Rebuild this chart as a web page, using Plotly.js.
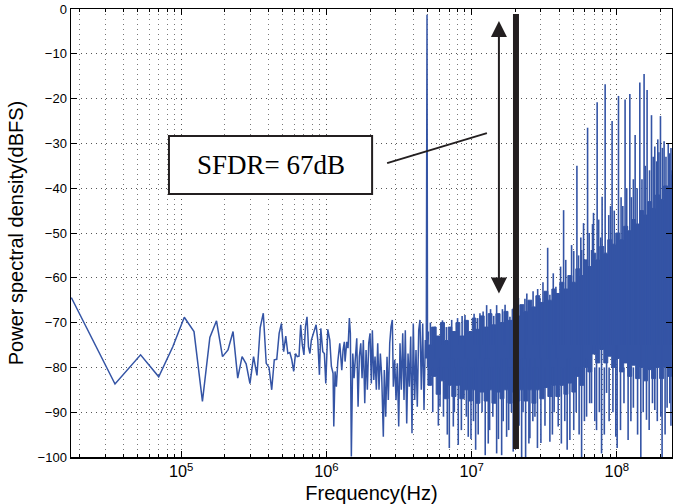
<!DOCTYPE html>
<html><head><meta charset="utf-8">
<script src="https://cdn.plot.ly/plotly-3.0.1.min.js"></script>
<style>html,body{margin:0;padding:0;background:#fff}#chart{width:673px;height:504px}</style>
</head><body><div id="chart"></div>
<script>
// ---- Low-frequency FFT bins (kHz, dBFS) ----
const binFreqKHz = [17.5,35,52.5,70,87.5,105,122.5,140,157.5,175,192.5,210,227.5,245,262.5,280,297.5,315,332.5,350,367.5,385,402.5,420,437.5,455,472.5,490,507.5,525,542.5,560,577.5,595,612.5,630,647.5,665,682.5,700,717.5,735,752.5,770,787.5];
const binPsd = [-64.4,-83.7,-77.2,-82.1,-75.4,-68.8,-72.0,-87.6,-73.3,-69.6,-77.6,-76.1,-72.0,-82.4,-77.6,-79.2,-83.6,-77.6,-81.8,-71.1,-67.9,-79.1,-80.0,-85.0,-78.3,-78.2,-72.4,-70.2,-76.5,-73.0,-76.9,-76.7,-78.3,-80.9,-76.9,-77.6,-77.5,-70.5,-75.0,-77.2,-70.9,-68.7,-75.4,-76.9,-73.9];

// ---- Mid band trace incl. fundamental (MHz, dBFS) ----
const midFreqMHz = [0.849,0.872,0.895,0.915,0.944,0.968,0.990,1.022,1.055,1.082,1.111,1.124,1.147,1.171,1.198,1.236,1.276,1.302,1.329,1.344,1.381,1.409,1.439,1.462,1.485,1.519,1.550,1.582,1.618,1.652,1.686,1.724,1.760,1.796,1.837,1.875,1.914,1.956,1.997,2.039,2.072,2.118,2.162,2.207,2.256,2.303,2.352,2.404,2.443,2.466,2.505,2.561,2.615,2.669,2.729,2.786,2.844,2.890,2.954,3.016,3.078,3.147,3.213,3.280,3.354,3.423,3.495,3.573,3.648,3.723,3.806,3.885,3.966,4.055,4.140,4.226,4.321,4.411,4.503,4.604,4.700,4.798,4.870,4.930,4.970,5.040];
const midPsd = [-70.5,-73.9,-81.7,-71.3,-76.5,-76.9,-83.6,-71.5,-73.9,-79.8,-81.3,-93.2,-80.9,-84.3,-78.7,-74.6,-80.6,-76.1,-74.3,-78.7,-74.3,-75.7,-69.0,-72.4,-99.9,-76.9,-82.4,-78.0,-73.5,-88.8,-77.6,-74.6,-82.4,-73.9,-88.0,-76.1,-85.0,-74.6,-72.4,-83.6,-71.7,-82.8,-77.6,-85.0,-74.6,-85.0,-76.9,-82.1,-89.5,-95.5,-80.6,-91.0,-77.6,-87.3,-74.6,-70.9,-69.4,-84.3,-78.3,-87.3,-79.1,-93.2,-74.6,-85.0,-72.4,-87.3,-71.7,-92.5,-76.9,-84.3,-73.1,-94.7,-70.2,-87.3,-76.1,-88.8,-71.7,-69.4,-85.0,-70.2,-89.5,-73.9,-78.0,-1.3,-80.0,-72.0];

// ---- Dense noise floor band above 5 MHz (MHz, dBFS) ----
const bandFreqMHz = [5.0,5.3,5.7,6.1,6.5,6.9,7.3,7.8,8.3,8.9,9.5,10.1,10.7,11.4,12.2,13.0,13.8,14.7,15.7,16.7,17.8,19.0,20.2,21.5,22.9,24.4,26.0,27.7,29.5,31.5,33.5,35.7,38.0,40.5,43.2,46.0,49.0,52.2,55.6,59.2,63.1,67.2,71.6,76.3,81.3,86.6,92.2,98.3,104.7,111.5,118.8,126.6,134.8,143.7,153.0,163.0,173.7,185.1,197.2,210.0,223.8,238.4];
const bandTop = [-75,-71,-73,-70,-74,-71,-72,-70,-73,-69.5,-72,-69,-71.5,-68.5,-71,-68,-70.5,-68,-70,-67.5,-69.5,-67,-68.5,-66,-67.5,-65,-66.5,-64,-65.5,-63,-65,-62.5,-63.5,-61,-62.5,-59.5,-61,-58,-59.5,-56,-57.5,-54.5,-56,-53,-54.5,-51.5,-52.5,-50,-51.5,-48.5,-49.5,-47,-48,-45,-46,-43,-44.5,-41.5,-42.5,-39.5,-40,-37];
const bandBottom = [-79,-84,-82,-86,-83,-87,-84,-86.5,-84,-87,-85,-87.5,-85,-88,-85.5,-87.5,-85,-88,-85.5,-87,-85,-88,-85.5,-87.5,-85,-87.5,-85,-88,-85,-87,-84.5,-86.5,-84,-86.5,-84,-86,-83.5,-85.5,-82,-84,-80,-81,-77,-79,-76,-79,-77.5,-80,-78,-81,-79,-82,-79.5,-82.5,-80,-83,-80.5,-82.5,-80,-82.5,-80,-82];

// ---- Strong spurs, harmonics and deep dips (MHz, low dB, high dB) ----
const spikeFreqMHz = [5.59,6.06,7.02,7.29,7.48,8.09,9.00,9.48,10.66,11.41,12.41,12.69,13.02,14.87,16.10,17.42,18.36,19.34,22.10,23.28,23.54,25.20,27.29,29.53,30.0,33.4,34.59,38.05,39.48,43.0,45.5,47.5,48.8,53.1,57.2,59.0,61.9,62.9,66.98,69.1,72.5,73.2,78.5,79.2,83.1,85.0,92.8,98.4,100.5,102.7,114.0,119.6,122.9,133.7,144.0,146.3,154.1,160.1,161.6,173.3,182.6,191.5,199.8,200.8,205.0,211.6,231.6,240.0];
const spikeLow = [-78,-88.8,-98,-78,-93.2,-97.3,-78,-95.5,-98.4,-78,-99.6,-78,-97,-99.2,-99.6,-95.5,-78,-98.8,-100,-78,-100,-95.8,-91,-78,-96.9,-78,-96.6,-78,-93.2,-75,-98.4,-96.2,-75,-75,-100,-75,-91,-75,-88,-75,-94,-75,-99.2,-75,-75,-85.7,-75,-95.5,-98,-75,-75,-96.2,-75,-75,-75,-100,-75,-91.7,-75,-75,-89.5,-75,-75,-91,-100,-75,-88,-75];
const spikeHigh = [-70.9,-78,-78,-69.4,-78,-78,-68.3,-78,-78,-67.9,-78,-66.1,-78,-66.1,-78,-78,-68.7,-78,-78,-64.7,-78,-78,-78,-64.5,-78,-53.3,-63.8,-62,-78,-44.9,-78,-78,-52.7,-35.0,-53.8,-47.8,-78,-26.5,-53.8,-45.5,-75,-20.8,-75,-41.9,-16.8,-75,-25.0,-75,-75,-19.4,-20.2,-75,-19.0,-28.1,-16.4,-75,-14.5,-75,-18.1,-23.7,-30.7,-29.1,-23.9,-75,-75,-29.5,-32.2,-36];

// ---- Minor spurs poking above the floor (MHz, peak dB) ----
const minorUpMHz = [5.2,6.3,6.7,8.0,8.6,10.4,11.0,12.0,13.5,14.2,16.3,17.0,19.5,21.0,24.0,26.5,28.5,31.0,36.5,41.0,44.5,50.5,54.5,56.5,64.5,68.0,75.0,77.5,88.0,90.5,96.0,107,110,117,126,130,138,149,157,168,178,188,195,206,218,226,236];
const minorUpPeak = [-70,-69.5,-71,-69,-68.5,-68,-69,-67.5,-67,-68.5,-67,-66,-66.5,-64.5,-63.5,-63,-62.5,-61,-59,-57.5,-56,-54,-55,-51,-50,-48,-47,-51,-46,-44,-45,-42,-44,-40,-42,-38,-40,-38,-35,-36,-33,-34,-32,-31,-33,-30,-31];
// ---- Minor dips below the floor (MHz, dip dB) ----
const minorDownMHz = [5.4,5.9,6.4,6.8,7.6,8.5,9.2,9.9,10.3,11.1,11.8,13.3,14.0,15.3,16.5,18.0,18.8,21.2,22.6,24.8,26.4,28.4,32,36,37,41.5,43.8,50.5,52.5,55,59.8,65,70.5,75.8,82,88.5,94,106,112,125,130,139,152,167,176,190,215,222,236];
const minorDownDip = [-90,-93,-91,-95,-90,-94,-91,-96,-92,-95,-90,-94,-91,-96,-92,-94,-90,-93,-90,-97,-92,-98,-93,-95,-90,-97,-92,-94,-90,-95,-92,-88,-92,-90,-95,-92,-90,-94,-88,-92,-89,-95,-90,-94,-88,-92,-95,-89,-93];

const BLUE = '#3454a5';
const HZ_PER_KHZ = 1e3, HZ_PER_MHZ = 1e6;
const FLOOR_UP = -75, FLOOR_DOWN = -80;

const lineX = binFreqKHz.map(f => f * HZ_PER_KHZ).concat(midFreqMHz.map(f => f * HZ_PER_MHZ));
const lineY = binPsd.concat(midPsd);

const bandX = bandFreqMHz.map(f => f * HZ_PER_MHZ).concat(bandFreqMHz.slice().reverse().map(f => f * HZ_PER_MHZ));
const bandY = bandTop.concat(bandBottom.slice().reverse());

const spX = [], spY = [];
spikeFreqMHz.forEach((f, i) => { spX.push(f * HZ_PER_MHZ, f * HZ_PER_MHZ, null); spY.push(spikeLow[i], spikeHigh[i], null); });
minorUpMHz.forEach((f, i) => { spX.push(f * HZ_PER_MHZ, f * HZ_PER_MHZ, null); spY.push(FLOOR_UP, minorUpPeak[i], null); });
minorDownMHz.forEach((f, i) => { spX.push(f * HZ_PER_MHZ, f * HZ_PER_MHZ, null); spY.push(minorDownDip[i], FLOOR_DOWN, null); });

const traces = [
  {type:'scatter', mode:'lines', x: bandX, y: bandY, fill:'toself', fillcolor: BLUE, line:{color: BLUE, width:1, shape:'hv'}, hoverinfo:'skip'},
  {type:'scatter', mode:'lines', x: spX, y: spY, line:{color: BLUE, width:1.6}, hoverinfo:'skip'},
  {type:'scatter', mode:'lines', x: lineX, y: lineY, line:{color: BLUE, width:1.5}}
];

const axisFont = {family:'Liberation Sans, Arial, sans-serif', size:13, color:'#000'};
const GRID_DASH = '1px,4px';
const layout = {
  width: 673, height: 504,
  margin: {l:71, r:1, t:9, b:47},
  paper_bgcolor:'#fff', plot_bgcolor:'#fff',
  showlegend:false,
  xaxis: {
    type:'log', range:[4.241, 8.38], tickmode:'linear', tick0:0, dtick:1,
    exponentformat:'power', ticks:'inside', ticklen:6, tickcolor:'#000',
    showline:true, linecolor:'#000', linewidth:1.5, mirror:'allticks',
    showgrid:true, gridcolor:'#555', griddash:GRID_DASH, gridwidth:1,
    minor:{dtick:'D1', ticks:'inside', ticklen:3, tickcolor:'#000', showgrid:true, gridcolor:'#777', griddash:GRID_DASH, gridwidth:1},
    tickfont: axisFont, zeroline:false,
    title:{text:'Frequency(Hz)', font:{family:'Liberation Sans, Arial, sans-serif', size:20, color:'#000'}, standoff:8}
  },
  yaxis: {
    range:[-100, 0], dtick:10, tick0:0, ticks:'inside', ticklen:6, tickcolor:'#000',
    showline:true, linecolor:'#000', linewidth:1.5, mirror:'allticks',
    showgrid:true, gridcolor:'#555', griddash:GRID_DASH, gridwidth:1,
    tickfont: axisFont, zeroline:false,
    title:{text:'Power spectral density(dBFS)', font:{family:'Liberation Sans, Arial, sans-serif', size:20, color:'#000'}, standoff:8}
  },
  shapes: [
    {type:'line', xref:'paper', yref:'paper', x0:0.7404, x1:0.7404, y0:0.018, y1:0.989, line:{color:'#231f20', width:6}},
    {type:'line', xref:'paper', yref:'paper', x0:0.526, y0:0.656, x1:0.692, y1:0.723, line:{color:'#231f20', width:2}},
    {type:'rect', xref:'paper', yref:'paper', x0:0.163, x1:0.501, y0:0.587, y1:0.7165, line:{color:'#231f20', width:2}, fillcolor:'#fff'}
  ],
  annotations: [
    {xref:'paper', yref:'paper', x:0.332, y:0.652, xanchor:'center', yanchor:'middle', text:'SFDR= 67dB', showarrow:false,
     font:{family:'Liberation Serif, Times New Roman, serif', size:27, color:'#000'}},
    {xref:'paper', yref:'paper', x:0.712, y:0.973, text:'', showarrow:true, ax:0, ay:274,
     arrowside:'end+start', arrowhead:2, arrowsize:1.6, arrowwidth:2, arrowcolor:'#231f20', standoff:0, startstandoff:0}
  ]
};

Plotly.newPlot('chart', traces, layout, {staticPlot:true, displayModeBar:false});
</script>
</body></html>
